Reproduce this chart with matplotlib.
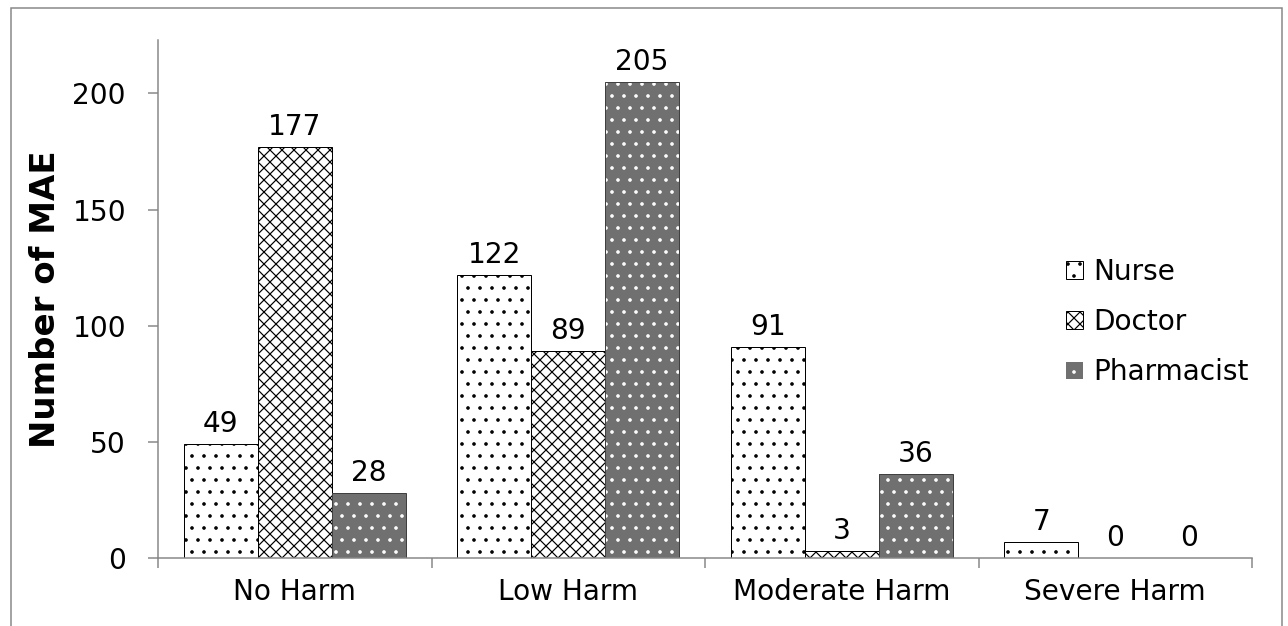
import matplotlib
matplotlib.use("Agg")
import matplotlib.pyplot as plt
import numpy as np
from matplotlib.patches import Rectangle, Patch

categories = ["No Harm", "Low Harm", "Moderate Harm", "Severe Harm"]
series = ["Nurse", "Doctor", "Pharmacist"]
nurse = [49, 122, 91, 7]
doctor = [177, 89, 3, 0]
pharmacist = [28, 205, 36, 0]

DPI = 72
W, H = 1288, 626
plt.rcParams["font.family"] = ["DejaVu Sans"]
plt.rcParams["hatch.linewidth"] = 1.2

fig = plt.figure(figsize=(W / DPI, H / DPI), dpi=DPI)
ax = fig.add_axes([158 / W, 68 / H, 1094 / W, 518 / H])

x = np.arange(len(categories))
bw = 0.27
axis_col = "#868686"
fs = 28

b1 = ax.bar(x - bw, nurse, bw, facecolor="white", edgecolor="black",
            hatch=".", linewidth=1.0)
b2 = ax.bar(x, doctor, bw, facecolor="white", edgecolor="black",
            hatch="xx", linewidth=1.0)
# pharmacist: grey fill with white dots, then a dark outline on top
b3 = ax.bar(x + bw, pharmacist, bw, facecolor="#707070", edgecolor="white",
            hatch=".", linewidth=0)
ax.bar(x + bw, pharmacist, bw, fill=False, edgecolor="#404040", linewidth=1.0)

for bars in (b1, b2, b3):
    ax.bar_label(bars, padding=6, fontsize=fs)

ax.set_xlim(-0.5, len(categories) - 0.5)
ax.set_ylim(0, 223)
ax.set_yticks([0, 50, 100, 150, 200])
ax.set_xticks(np.arange(len(categories) + 1) - 0.5)
ax.set_xticklabels([])
ax.set_xticks(x, minor=True)
ax.set_xticklabels(categories, minor=True)
ax.tick_params(axis="x", which="major", length=10, width=1.5,
               color=axis_col, direction="out")
ax.tick_params(axis="x", which="minor", length=0, pad=20, labelsize=fs)
ax.tick_params(axis="y", length=10, width=1.5, color=axis_col,
               direction="out", pad=22, labelsize=fs)

for s in ("top", "right"):
    ax.spines[s].set_visible(False)
for s in ("left", "bottom"):
    ax.spines[s].set_color(axis_col)
    ax.spines[s].set_linewidth(1.5)

ax.set_ylabel("Number of MAE", fontsize=34, fontweight="bold")
ax.yaxis.set_label_coords(-0.088, 0.5)

handles = [
    Patch(facecolor="white", edgecolor="black", hatch=".", linewidth=1.0),
    Patch(facecolor="white", edgecolor="black", hatch="xx", linewidth=1.0),
    Patch(facecolor="#707070", edgecolor="white", hatch=".", linewidth=0),
]
ax.legend(handles, series, loc="center left",
          bbox_to_anchor=(1066 / W, 1 - 322 / H), bbox_transform=fig.transFigure,
          frameon=False, fontsize=fs, handlelength=0.6, handleheight=0.6,
          handletextpad=0.37, labelspacing=0.8, borderpad=0, borderaxespad=0)

# outer chart border
fig.patches.append(Rectangle((11 / W, -0.05), (1282 - 11) / W, 1.05 - 8 / H,
                             transform=fig.transFigure, fill=False,
                             edgecolor=axis_col, linewidth=1.5))

fig.savefig("out.png", dpi=DPI)
